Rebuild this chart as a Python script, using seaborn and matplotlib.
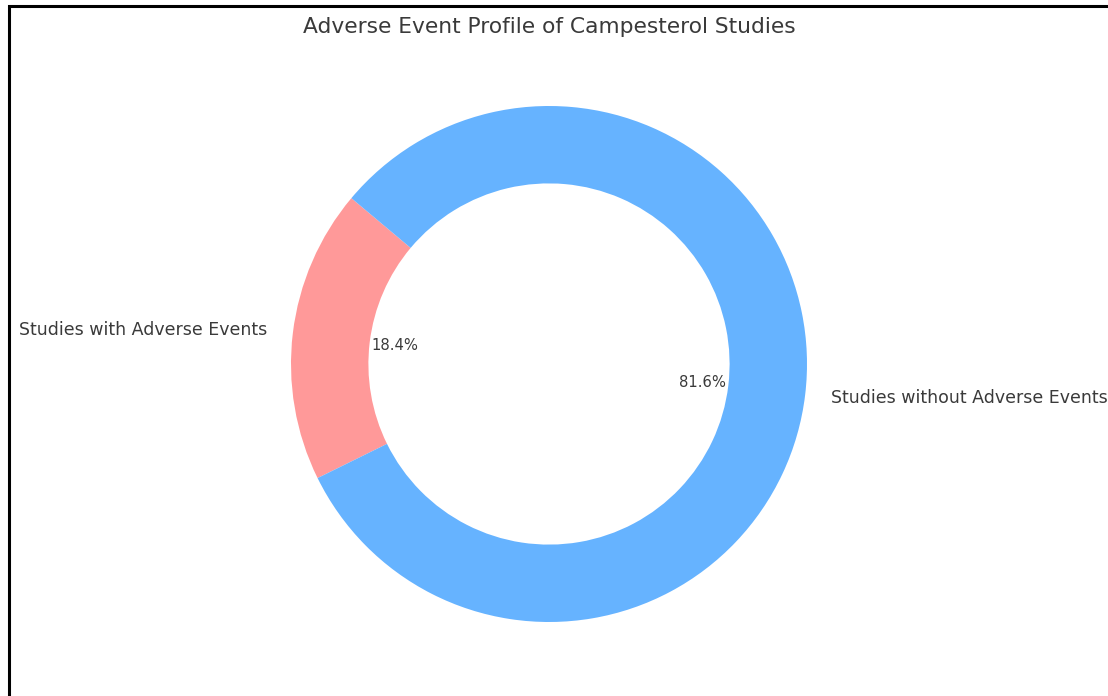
import matplotlib
matplotlib.use("Agg")
import matplotlib.pyplot as plt
from matplotlib.patches import Rectangle
import seaborn as sns

# Study counts share (percent)
categories = ["Studies with Adverse Events", "Studies without Adverse Events"]
shares = [18.4, 81.6]
colors = ["#ff9999", "#66b3ff"]

sns.set_theme(style="white")
plt.rcParams["font.family"] = ["DejaVu Sans"]

W, H = 1108, 696
fig = plt.figure(figsize=(W / 100, H / 100), dpi=100)
fig.patch.set_facecolor("white")

side = 645
cx, cy = 549, 364
ax = fig.add_axes([(cx - side / 2) / W, (H - cy - side / 2) / H, side / W, side / H])

wedges, texts, autotexts = ax.pie(
    shares,
    labels=categories,
    colors=sns.color_palette(colors),
    autopct="%1.1f%%",
    startangle=140,
    pctdistance=0.6,
    labeldistance=1.1,
    wedgeprops=dict(width=0.3, linewidth=0),
    textprops=dict(color="#3a3a3a"),
)
for t in texts:
    t.set_fontsize(12.55)
for t in autotexts:
    t.set_fontsize(10.6)
ax.set_aspect("equal")
ax.set_title("Adverse Event Profile of Campesterol Studies", fontsize=15.65, color="#3a3a3a")

# Frame line along the left and top edges of the figure
fig.add_artist(Rectangle((8.5 / W, -0.2), 1.5, 1.2 - 5.5 / H, transform=fig.transFigure,
                         fill=False, edgecolor="black", linewidth=2.2, clip_on=False))

fig.savefig("out.png", dpi=100)
